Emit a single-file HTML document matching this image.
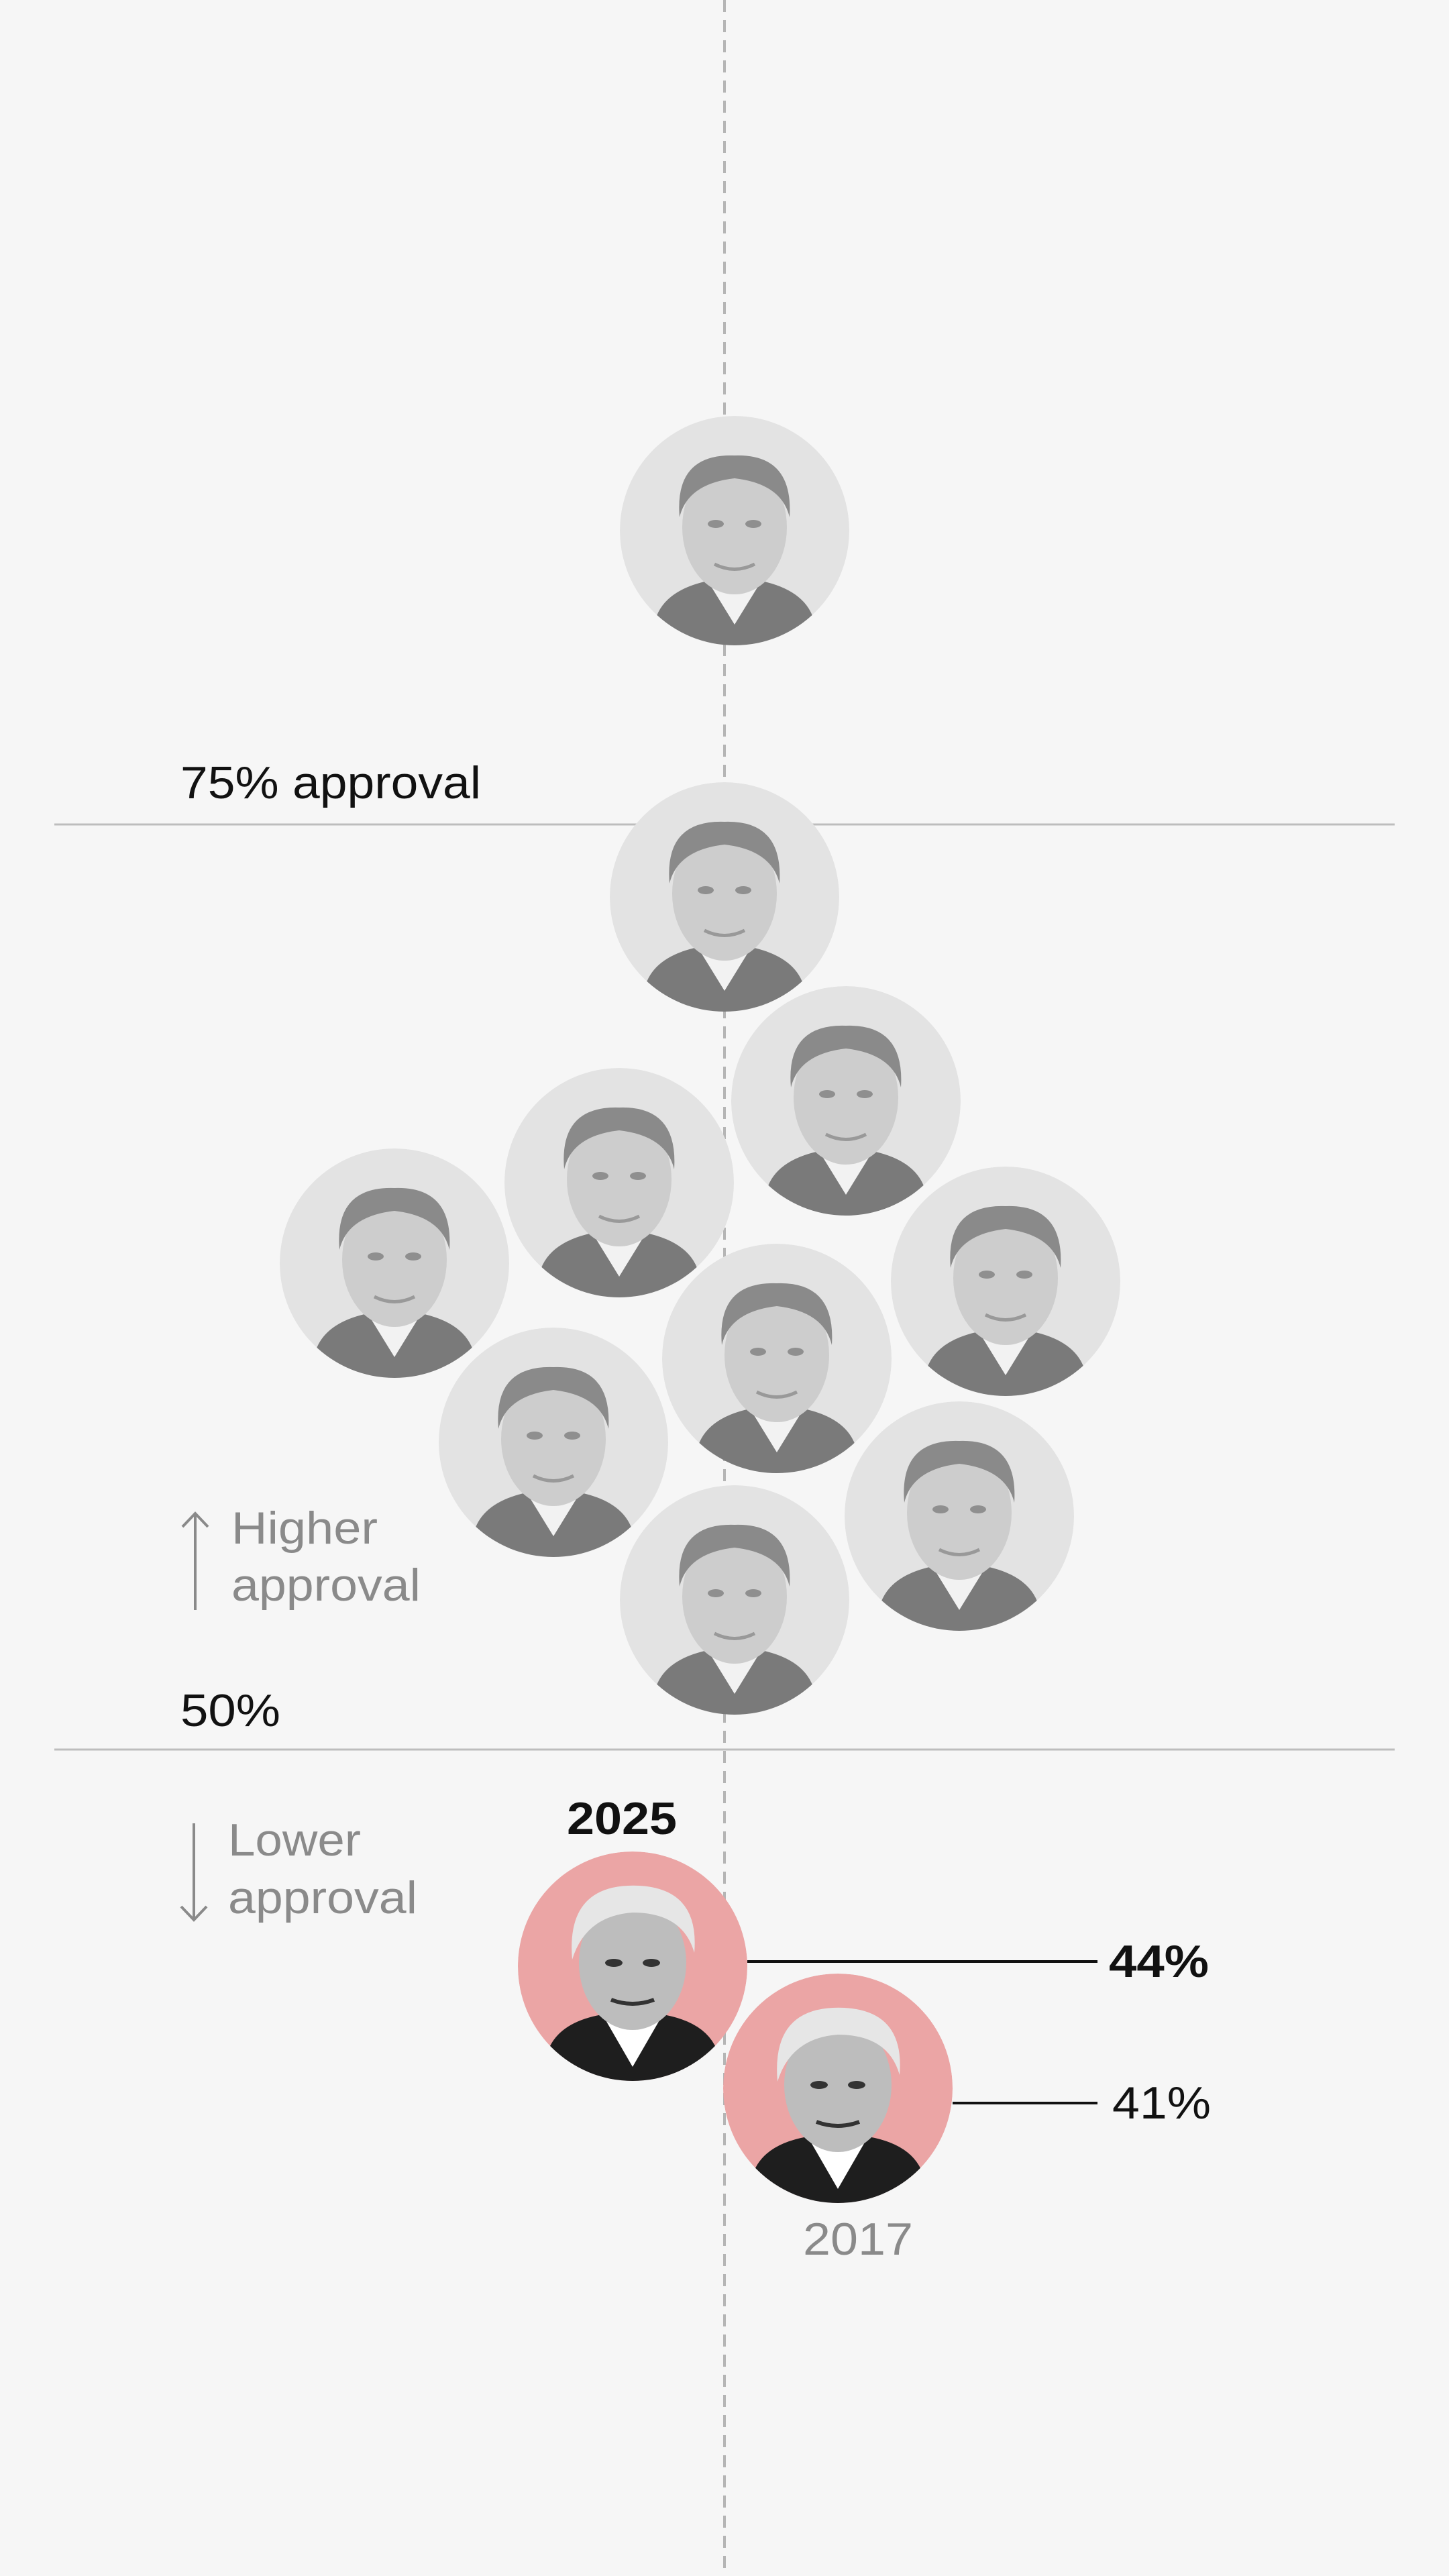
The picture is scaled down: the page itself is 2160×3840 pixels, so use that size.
<!DOCTYPE html>
<html><head><meta charset="utf-8"><style>
html,body{margin:0;padding:0;background:#f6f6f6;}
svg{display:block;}
text{font-family:"Liberation Sans",sans-serif;}
</style></head><body>
<svg width="2160" height="3840" viewBox="0 0 2160 3840" xmlns="http://www.w3.org/2000/svg">
<defs>
<g id="face">
  <circle r="171" fill="#e3e3e3"/>
  <path d="M-120,140 Q-110,90 -40,75 L40,75 Q110,90 120,140 L120,200 L-120,200 Z" fill="#7a7a7a"/>
  <path d="M-40,75 L0,140 L40,75 Z" fill="#f2f2f2"/>
  <rect x="-30" y="40" width="60" height="45" fill="#c4c4c4"/>
  <ellipse cx="0" cy="-5" rx="78" ry="100" fill="#cdcdcd"/>
  <path d="M-82,-20 Q-90,-115 0,-112 Q88,-115 82,-20 Q70,-70 0,-78 Q-70,-70 -82,-20 Z" fill="#8a8a8a"/>
  <ellipse cx="-28" cy="-10" rx="12" ry="6" fill="#8f8f8f"/>
  <ellipse cx="28" cy="-10" rx="12" ry="6" fill="#8f8f8f"/>
  <path d="M-30,50 Q0,65 30,50" stroke="#999" stroke-width="5" fill="none"/>
</g>
<g id="trump">
  <path d="M-130,140 Q-120,85 -45,72 L45,72 Q120,85 130,140 L130,200 L-130,200 Z" fill="#1e1e1e"/>
  <path d="M-45,72 L0,150 L45,72 Z" fill="#ffffff"/>
  <ellipse cx="0" cy="-5" rx="80" ry="100" fill="#bdbdbd"/>
  <path d="M-90,-10 Q-100,-125 10,-120 Q100,-115 92,-20 Q75,-80 0,-80 Q-70,-75 -90,-10 Z" fill="#e6e6e6"/>
  <ellipse cx="-28" cy="-5" rx="13" ry="6" fill="#333"/>
  <ellipse cx="28" cy="-5" rx="13" ry="6" fill="#333"/>
  <path d="M-32,50 Q0,62 32,50" stroke="#333" stroke-width="6" fill="none"/>
</g>
</defs>
<line x1="1080" y1="0" x2="1080" y2="3840" stroke="#b5b5b5" stroke-width="4" stroke-dasharray="18,12"/>
<line x1="81" y1="1229" x2="2079" y2="1229" stroke="#bdbdbd" stroke-width="3"/>
<line x1="81" y1="2608" x2="2079" y2="2608" stroke="#bdbdbd" stroke-width="3"/>
<text x="269" y="1190" font-size="68" fill="#111" textLength="448" lengthAdjust="spacingAndGlyphs">75% approval</text>
<text x="269" y="2573" font-size="68" fill="#111" textLength="149" lengthAdjust="spacingAndGlyphs">50%</text>
<g fill="#8a8a8a" font-size="68">
<text x="345" y="2301" textLength="218" lengthAdjust="spacingAndGlyphs">Higher</text><text x="345" y="2386" textLength="282" lengthAdjust="spacingAndGlyphs">approval</text>
<text x="340" y="2766" textLength="198" lengthAdjust="spacingAndGlyphs">Lower</text><text x="340" y="2852" textLength="282" lengthAdjust="spacingAndGlyphs">approval</text>
</g>
<g stroke="#8a8a8a" stroke-width="4" fill="none">
<line x1="291" y1="2256" x2="291" y2="2400"/><path d="M272,2276 L291,2256 L310,2276"/>
<line x1="289" y1="2718" x2="289" y2="2862"/><path d="M270,2842 L289,2862 L308,2842"/>
</g>
<g>
<clipPath id="c"><circle r="171"/></clipPath>
<g transform="translate(1095,791)" clip-path="url(#c)"><use href="#face"/></g>
<g transform="translate(1080,1337)" clip-path="url(#c)"><use href="#face"/></g>
<g transform="translate(1261,1641)" clip-path="url(#c)"><use href="#face"/></g>
<g transform="translate(923,1763)" clip-path="url(#c)"><use href="#face"/></g>
<g transform="translate(588,1883)" clip-path="url(#c)"><use href="#face"/></g>
<g transform="translate(1499,1910)" clip-path="url(#c)"><use href="#face"/></g>
<g transform="translate(1158,2025)" clip-path="url(#c)"><use href="#face"/></g>
<g transform="translate(825,2150)" clip-path="url(#c)"><use href="#face"/></g>
<g transform="translate(1430,2260)" clip-path="url(#c)"><use href="#face"/></g>
<g transform="translate(1095,2385)" clip-path="url(#c)"><use href="#face"/></g>
<g transform="translate(943,2931)" clip-path="url(#c)"><circle r="171" fill="#eba5a5"/><use href="#trump"/></g>
<g transform="translate(1249,3113)" clip-path="url(#c)"><circle r="171" fill="#eba5a5"/><use href="#trump"/></g>
</g>
<line x1="1114" y1="2924" x2="1636" y2="2924" stroke="#111" stroke-width="4"/>
<line x1="1420" y1="3135" x2="1636" y2="3135" stroke="#111" stroke-width="4"/>
<text x="845" y="2734" font-size="68" font-weight="bold" fill="#111" textLength="164" lengthAdjust="spacingAndGlyphs">2025</text>
<text x="1653" y="2947" font-size="68" font-weight="bold" fill="#111" textLength="149" lengthAdjust="spacingAndGlyphs">44%</text>
<text x="1658" y="3158" font-size="68" fill="#111" textLength="147" lengthAdjust="spacingAndGlyphs">41%</text>
<text x="1197" y="3361" font-size="68" fill="#8a8a8a" textLength="164" lengthAdjust="spacingAndGlyphs">2017</text>
</svg>
</body></html>
